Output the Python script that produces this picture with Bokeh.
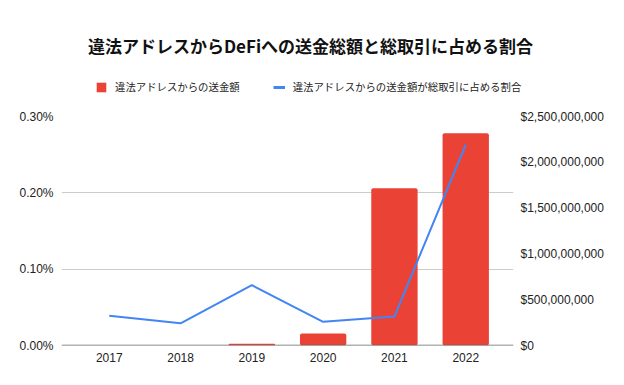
from bokeh.plotting import figure
from bokeh.layouts import column
from bokeh.models import (FactorRange, Range1d, LinearAxis, FixedTicker, PrintfTickFormatter,
                          NumeralTickFormatter, Span, Legend, LegendItem, Label, ColumnDataSource)
from bokeh.embed import file_html
from bokeh.resources import INLINE

years = ["2017", "2018", "2019", "2020", "2021", "2022"]
amount_usd = [0, 0, 20_000_000, 130_000_000, 1_717_000_000, 2_318_000_000]
share_pct = [0.039, 0.029, 0.079, 0.031, 0.038, 0.263]
left_ticks = [0.0, 0.1, 0.2, 0.3]
right_ticks = [0, 500_000_000, 1_000_000_000, 1_500_000_000, 2_000_000_000, 2_500_000_000]

title_text = "違法アドレスからDeFiへの送金総額と総取引に占める割合"
bar_label = "違法アドレスからの送金額"
line_label = "違法アドレスからの送金額が総取引に占める割合"

RED = "#EA4335"
BLUE = "#4285F4"
AX_FONT = "Liberation Sans"
CJK_FONT = "Noto Sans CJK JP"

W = 624
TOP_H = 94
MAIN_H = 291

# ---------------- header: title + legend ----------------
head = figure(width=W, height=TOP_H, output_backend="svg", toolbar_location=None,
              x_axis_type=None, y_axis_type=None,
              x_range=Range1d(0, W), y_range=Range1d(0, TOP_H),
              min_border=0, min_border_left=0, min_border_right=0,
              min_border_top=0, min_border_bottom=0)
head.frame_align = False
head.outline_line_color = None
head.grid.visible = False
head.background_fill_color = "white"
head.border_fill_color = "white"

idx = list(range(len(years)))
bar_proxy = head.vbar(x=idx, top=amount_usd, width=0.65, fill_color=RED, line_color=None,
                      visible=False)
line_proxy = head.line(x=idx, y=share_pct, line_color=BLUE, line_width=3, visible=False)

legend = Legend(items=[LegendItem(label=bar_label, renderers=[bar_proxy]),
                       LegendItem(label=line_label, renderers=[line_proxy])],
                orientation="horizontal", location=(95, 0),
                glyph_width=12, glyph_height=12, label_standoff=8, spacing=33,
                label_height=12, padding=0, margin=0,
                border_line_alpha=0, background_fill_alpha=0,
                inactive_fill_alpha=0,
                label_text_font=CJK_FONT, label_text_font_size="10.4px",
                label_text_color="#222222")
head.add_layout(legend, "center")

head.add_layout(Label(x=310, y=TOP_H - 45, text=title_text,
                      text_align="center", text_baseline="middle",
                      text_font=CJK_FONT, text_font_size="17px", text_font_style="bold",
                      text_color="#111111"))

# ---------------- main chart ----------------
src = ColumnDataSource(dict(year=years, amount=amount_usd, share=share_pct))

p = figure(width=W, height=MAIN_H, output_backend="svg", toolbar_location=None,
           x_range=FactorRange(factors=years, range_padding=0.17, range_padding_units="absolute"),
           y_range=Range1d(0, left_ticks[-1]),
           min_border_left=61, min_border_right=111, min_border_top=22, min_border_bottom=40)
p.frame_align = False
p.outline_line_color = None
p.background_fill_color = "white"
p.border_fill_color = "white"

p.extra_y_ranges = {"usd": Range1d(0, right_ticks[-1])}

p.vbar(x="year", top="amount", width=0.65, source=src, y_range_name="usd",
       fill_color=RED, line_color=None, border_radius=2)
p.line(x="year", y="share", source=src, line_color=BLUE, line_width=2)

yl = p.yaxis[0]
yl.ticker = FixedTicker(ticks=left_ticks)
yl.formatter = PrintfTickFormatter(format="%.2f%%")

yr = LinearAxis(y_range_name="usd", ticker=FixedTicker(ticks=right_ticks),
                formatter=NumeralTickFormatter(format="$0,0"))
p.add_layout(yr, "right")

for ax in [yl, yr, p.xaxis[0]]:
    ax.axis_line_color = None
    ax.major_tick_line_color = None
    ax.minor_tick_line_color = None
    ax.major_tick_out = 0
    ax.major_tick_in = 0
    ax.major_label_text_font = AX_FONT
    ax.major_label_text_font_size = "12px"
    ax.major_label_text_color = "#222222"
yl.major_label_standoff = 8
yr.major_label_standoff = 7
p.xaxis[0].major_label_standoff = 7

p.xgrid.grid_line_color = None
p.ygrid.grid_line_color = "#cccccc"
p.ygrid.grid_line_width = 1
p.ygrid.ticker = FixedTicker(ticks=left_ticks)

p.add_layout(Span(location=0, dimension="width", line_color="#666666", line_width=1.5))

layout = column(head, p, spacing=0)
open("out.html", "w").write(file_html(layout, INLINE))
